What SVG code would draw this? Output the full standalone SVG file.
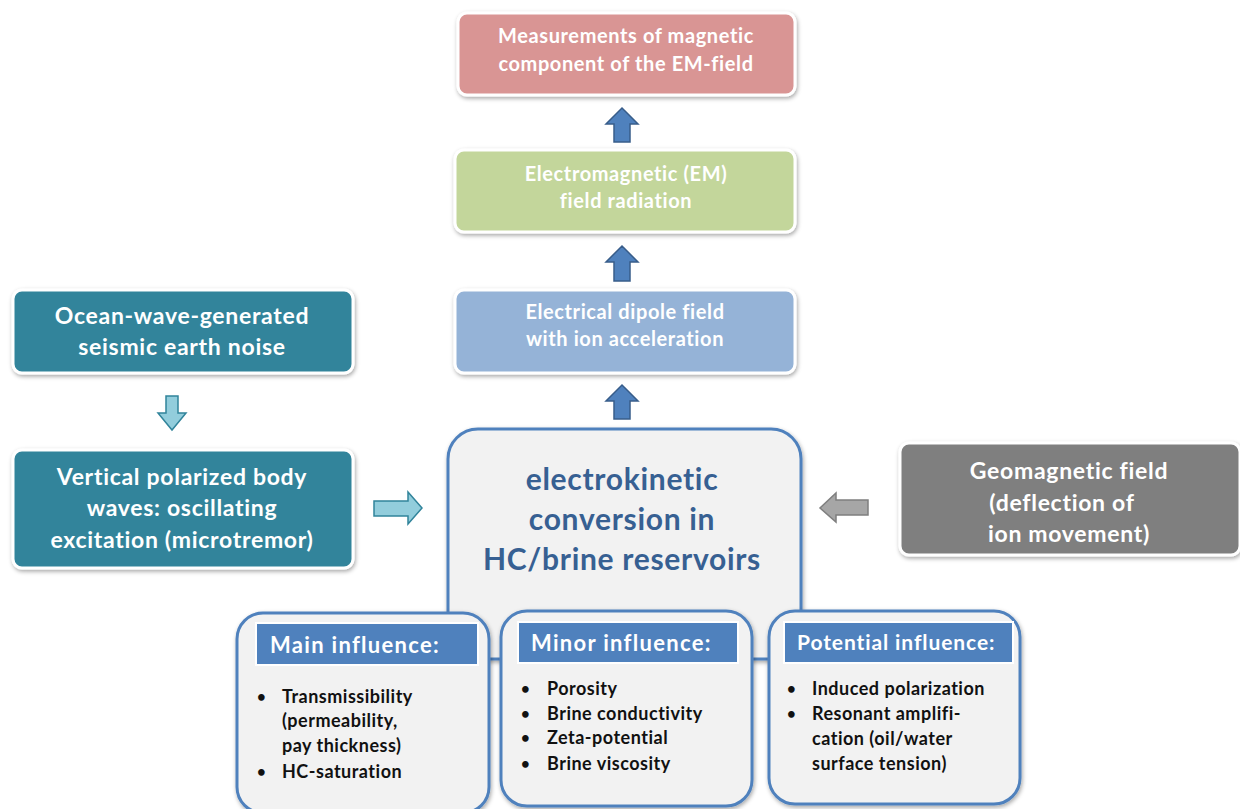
<svg xmlns="http://www.w3.org/2000/svg" width="1240" height="809" viewBox="0 0 1240 809">
<defs>
<filter id="sh" x="-10%" y="-10%" width="120%" height="130%">
<feDropShadow dx="1" dy="2" stdDeviation="2" flood-color="#000" flood-opacity="0.35"/>
</filter>
<style>
text{font-family:Lato,"Open Sans","Liberation Sans",sans-serif;font-weight:bold;font-variant-ligatures:none;font-feature-settings:"liga" 0}
.t{text-anchor:middle}
.s{font-size:20px;letter-spacing:0.6px}
.m{font-size:23px;letter-spacing:0.7px}
.w{fill:#fff}
.box{stroke:#fff;stroke-width:3;filter:url(#sh)}
.up{fill:#4f81bd;stroke:#385d8a;stroke-width:1.5}
.panel{fill:#f2f2f2;stroke:#4f81bd;stroke-width:3;filter:url(#sh)}
.hdr{fill:#4f81bd;stroke:#fff;stroke-width:2}
.b{font-size:18px;letter-spacing:0.5px;fill:#111}
.d{font-size:15px;fill:#111}
.h{font-size:22px;letter-spacing:1.3px;fill:#fff}
.c{font-size:30px;letter-spacing:0.7px;fill:#376092}
</style>
</defs>
<rect width="1240" height="809" fill="#fff"/>
<g id="measurements">
<rect class="box" x="458" y="13" width="337" height="82" rx="9" fill="#d99594"/>
<text class="t s w" x="626" y="43">Measurements of magnetic</text>
<text class="t s w" x="626" y="71">component of the EM-field</text>
</g>
<g id="em-radiation">
<rect class="box" x="455" y="150" width="340" height="82" rx="9" fill="#c3d69b"/>
<text class="t s w" x="626" y="181">Electromagnetic (EM)</text>
<text class="t s w" x="626" y="208">field radiation</text>
</g>
<g id="dipole">
<rect class="box" x="455" y="290" width="340" height="83" rx="9" fill="#95b3d7"/>
<text class="t s w" x="625" y="319">Electrical dipole field</text>
<text class="t s w" x="625" y="346">with ion acceleration</text>
</g>
<g id="ocean">
<rect class="box" x="13" y="290" width="340" height="83" rx="9" fill="#31849b"/>
<text class="t m w" x="182" y="324">Ocean-wave-generated</text>
<text class="t m w" x="182" y="355">seismic earth noise</text>
</g>
<g id="vertical">
<rect class="box" x="13" y="450" width="340" height="118" rx="9" fill="#31849b"/>
<text class="t m w" x="182" y="485">Vertical polarized body</text>
<text class="t m w" x="182" y="516">waves: oscillating</text>
<text class="t m w" x="182" y="548">excitation (microtremor)</text>
</g>
<g id="geomagnetic">
<rect class="box" x="900" y="443" width="340" height="112" rx="9" fill="#7f7f7f"/>
<text class="t m w" x="1069" y="479">Geomagnetic field</text>
<text class="t m w" x="1062" y="511">(deflection of</text>
<text class="t m w" x="1069" y="542">ion movement)</text>
</g>
<g id="center">
<rect class="panel" x="448" y="429" width="353" height="230" rx="30"/>
<text class="t c" x="622" y="490">electrokinetic</text>
<text class="t c" x="622" y="530">conversion in</text>
<text class="t c" x="622" y="570">HC/brine reservoirs</text>
</g>
<g id="main">
<rect class="panel" x="237" y="613" width="252" height="200" rx="26"/>
<rect class="hdr" x="256" y="623" width="222" height="42"/>
<text class="h" x="270" y="653">Main influence:</text>
<text class="d" x="257" y="702">•</text><text class="b" x="282" y="703">Transmissibility</text>
<text class="b" x="282" y="727">(permeability,</text>
<text class="b" x="282" y="752">pay thickness)</text>
<text class="d" x="257" y="777">•</text><text class="b" x="282" y="778">HC-saturation</text>
</g>
<g id="minor">
<rect class="panel" x="501" y="611" width="251" height="195" rx="26"/>
<rect class="hdr" x="518" y="622" width="220" height="41"/>
<text class="h" x="531" y="651">Minor influence:</text>
<text class="d" x="521" y="694">•</text><text class="b" x="547" y="695">Porosity</text>
<text class="d" x="521" y="719">•</text><text class="b" x="547" y="720">Brine conductivity</text>
<text class="d" x="521" y="743">•</text><text class="b" x="547" y="744">Zeta-potential</text>
<text class="d" x="521" y="769">•</text><text class="b" x="547" y="770">Brine viscosity</text>
</g>
<g id="potential">
<rect class="panel" x="769" y="611" width="251" height="193" rx="26"/>
<rect class="hdr" x="784" y="622" width="229" height="41"/>
<text class="h" style="font-size:21px;letter-spacing:0.9px" x="797" y="650">Potential influence:</text>
<text class="d" x="787" y="694">•</text><text class="b" x="812" y="695">Induced polarization</text>
<text class="d" x="787" y="719">•</text><text class="b" x="812" y="720">Resonant amplifi-</text>
<text class="b" x="812" y="745">cation (oil/water</text>
<text class="b" x="812" y="770">surface tension)</text>
</g>
<g id="connectors">
<polygon class="up" points="622,108 638,124 630,124 630,142 614,142 614,124 606,124"/>
<polygon class="up" points="622,246 638,262 630,262 630,281 614,281 614,262 606,262"/>
<polygon class="up" points="622,385 638,401 630,401 630,419 614,419 614,401 606,401"/>
<polygon fill="#92cddc" stroke="#31849b" stroke-width="1.5" points="166,396 178,396 178,413 186,413 172,430 158,413 166,413"/>
<polygon fill="#92cddc" stroke="#31849b" stroke-width="1.5" points="374,501 408,501 408,492 422,508 408,524 408,516 374,516"/>
<polygon fill="#a6a6a6" stroke="#7f7f7f" stroke-width="1.5" points="868,500 836,500 836,493 820,508 836,522 836,515 868,515"/>
</g>
</svg>
